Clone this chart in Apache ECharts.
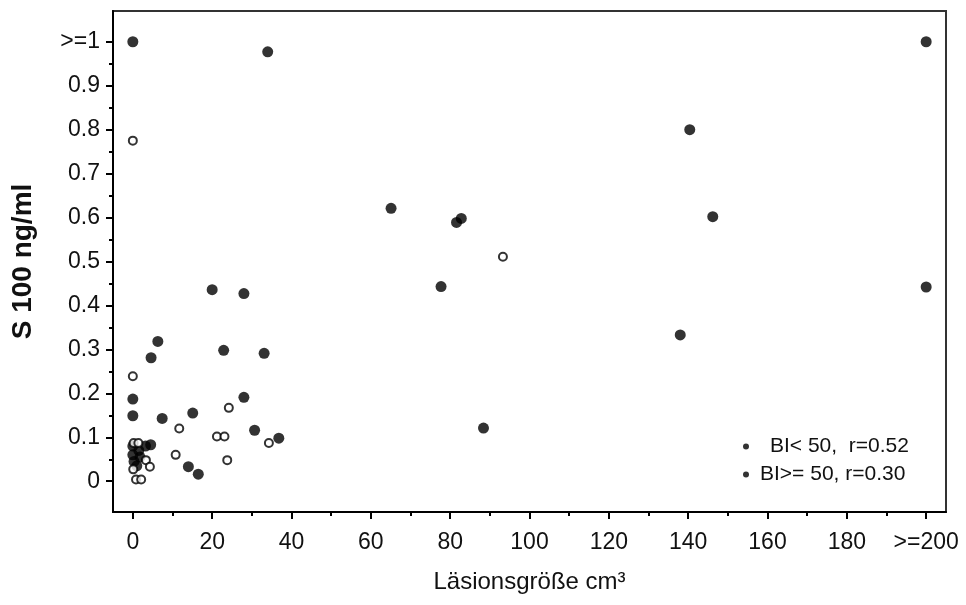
<!DOCTYPE html>
<html>
<head>
<meta charset="utf-8">
<script src="https://cdn.jsdelivr.net/npm/echarts@6/dist/echarts.min.js"></script>
<style>
  html, body { margin: 0; padding: 0; background: #fff; }
  #chart { width: 966px; height: 605px; }
</style>
</head>
<body>
<div id="chart"></div>
<script>
// Lesion size (cm³) vs. S100 (ng/ml); values at the top of each scale are capped
const groupLowName = 'BI< 50,  r=0.52';
const groupHighName = 'BI>= 50, r=0.30';

// BI < 50 (filled markers): [lesion size, S100]
const groupLow = [
  [0, 1.0], [34.0, 0.977], [200, 1.0], [140.4, 0.80], [146.2, 0.602],
  [200, 0.442], [138.0, 0.333], [65.1, 0.621], [81.6, 0.589], [82.8, 0.598],
  [77.7, 0.443], [88.4, 0.121], [20.0, 0.436], [28.0, 0.427], [6.3, 0.318],
  [4.6, 0.281], [22.9, 0.298], [33.1, 0.291], [0, 0.187], [0, 0.149],
  [7.4, 0.143], [15.1, 0.155], [28.0, 0.191], [30.7, 0.116], [36.8, 0.098],
  [14.0, 0.033], [16.5, 0.016],
  [4.5, 0.083], [3.2, 0.080], [0, 0.080], [1.5, 0.070], [0, 0.060],
  [1.8, 0.055], [0.3, 0.045], [1.0, 0.035]
];

// BI >= 50 (open markers): [lesion size, S100]
const groupHigh = [
  [0, 0.775], [93.3, 0.511], [0, 0.239], [24.2, 0.167], [11.7, 0.120],
  [21.2, 0.102], [23.1, 0.102], [34.3, 0.087], [10.8, 0.060], [23.8, 0.048],
  [0.2, 0.087], [1.4, 0.087], [3.3, 0.048], [4.3, 0.033], [0.1, 0.027],
  [0.8, 0.004], [2.1, 0.004]
];

// Tick positions and labels
const xMajorTicks = [0, 20, 40, 60, 80, 100, 120, 140, 160, 180, 200];
const xMinorTicks = [10, 30, 50, 70, 90, 110, 130, 150, 170, 190];
const yMajorTicks = [0, 0.1, 0.2, 0.3, 0.4, 0.5, 0.6, 0.7, 0.8, 0.9, 1];
const yMinorTicks = [0.05, 0.15, 0.25, 0.35, 0.45, 0.55, 0.65, 0.75, 0.85, 0.95];
const xTopLabel = '>=200';
const yTopLabel = '>=1';

const textColor = '#111';
const font = "'Liberation Sans', Arial, sans-serif";

const chart = echarts.init(document.getElementById('chart'), null, { renderer: 'canvas' });

const xRange = { min: -5, max: 205 };
const yRange = { min: -0.07, max: 1.07 };

chart.setOption({
  animation: false,
  backgroundColor: '#fff',
  grid: {
    left: 113, right: 20, top: 11, bottom: 93,
    show: true, borderColor: '#333', borderWidth: 2, backgroundColor: 'transparent'
  },
  legend: {
    orient: 'vertical',
    left: 738,
    top: 430,
    itemWidth: 6,
    itemHeight: 6,
    itemGap: 5,
    textStyle: { color: textColor, fontFamily: font, fontSize: 21, lineHeight: 23, padding: [0, 0, 0, 6] },
    data: [
      { name: groupLowName, icon: 'circle', itemStyle: { color: '#000', borderWidth: 0 },
        textStyle: { padding: [0, 0, 0, 16] } },
      { name: groupHighName, icon: 'circle', itemStyle: { color: '#000', borderWidth: 0 } }
    ]
  },
  xAxis: [
    {
      type: 'value', ...xRange, position: 'bottom',
      name: 'Läsionsgröße cm³', nameLocation: 'middle', nameGap: 58,
      nameTextStyle: { color: textColor, fontFamily: font, fontSize: 24 },
      splitLine: { show: false },
      axisLine: { onZero: false, lineStyle: { color: '#000', width: 2 } },
      axisTick: { show: true, inside: false, length: 7, customValues: xMajorTicks, lineStyle: { color: '#000', width: 2 } },
      axisLabel: {
        customValues: xMajorTicks, margin: 19, color: textColor, fontFamily: font, fontSize: 23,
        formatter: v => (v === 200 ? xTopLabel : String(v))
      }
    },
    {
      type: 'value', ...xRange, position: 'bottom', offset: 0,
      splitLine: { show: false },
      axisLine: { show: false, onZero: false },
      axisTick: { show: true, inside: false, length: 4, customValues: xMinorTicks, lineStyle: { color: '#000', width: 2 } },
      axisLabel: { show: false }
    }
  ],
  yAxis: [
    {
      type: 'value', ...yRange, position: 'left',
      name: 'S 100 ng/ml', nameLocation: 'middle', nameGap: 76, nameRotate: 90,
      nameTextStyle: { color: textColor, fontFamily: font, fontSize: 28, fontWeight: 'bold' },
      splitLine: { show: false },
      axisLine: { onZero: false, lineStyle: { color: '#000', width: 2 } },
      axisTick: { show: true, inside: false, length: 7, customValues: yMajorTicks, lineStyle: { color: '#000', width: 2 } },
      axisLabel: {
        customValues: yMajorTicks, margin: 13, color: textColor, fontFamily: font, fontSize: 23,
        formatter: v => (v === 1 ? yTopLabel : (v === 0 ? '0' : v.toFixed(1)))
      }
    },
    {
      type: 'value', ...yRange, position: 'left', offset: 0,
      splitLine: { show: false },
      axisLine: { show: false, onZero: false },
      axisTick: { show: true, inside: false, length: 4, customValues: yMinorTicks, lineStyle: { color: '#000', width: 2 } },
      axisLabel: { show: false }
    }
  ],
  series: [
    {
      name: groupLowName, type: 'scatter', xAxisIndex: 0, yAxisIndex: 0,
      data: groupLow, symbol: 'circle', symbolSize: 11,
      itemStyle: { color: '#000', borderWidth: 0 }
    },
    {
      name: groupHighName, type: 'scatter', xAxisIndex: 0, yAxisIndex: 0,
      data: groupHigh, symbol: 'circle', symbolSize: 8,
      itemStyle: { color: '#fff', borderColor: '#000', borderWidth: 2 }
    }
  ]
});
</script>
</body>
</html>
